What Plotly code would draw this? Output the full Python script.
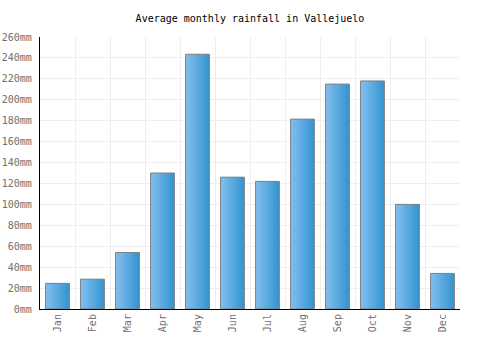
import plotly.graph_objects as go

months = ["Jan","Feb","Mar","Apr","May","Jun","Jul","Aug","Sep","Oct","Nov","Dec"]
rainfall = [24.5, 28.5, 54, 130, 243.5, 126, 122, 181.5, 215, 218, 100, 34]
y_ticks = list(range(0, 261, 20))
y_tick_text = [f"{v}mm" for v in y_ticks]

def lerp(c1, c2, t):
    return "rgb(%d,%d,%d)" % tuple(round(a + (b - a) * t) for a, b in zip(c1, c2))

left_c = (0x82, 0xbf, 0xef)
right_c = (0x36, 0x96, 0xd2)
W = 0.68
N = 12
fig = go.Figure()
for i in range(N):
    fig.add_trace(go.Bar(
        x=months, y=rainfall, width=W / N, offset=-W / 2 + i * W / N,
        marker=dict(color=lerp(left_c, right_c, i / (N - 1)), line=dict(width=0)),
        hoverinfo="skip", showlegend=False))
fig.add_trace(go.Bar(
    x=months, y=rainfall, width=W, offset=-W / 2,
    marker=dict(color="rgba(0,0,0,0)", line=dict(color="#808080", width=1)),
    showlegend=False))

fig.update_layout(
    width=500, height=350,
    margin=dict(l=40, r=40, t=37, b=41),
    barmode="overlay",
    paper_bgcolor="white", plot_bgcolor="white",
    font=dict(family="DejaVu Sans Mono", size=10, color="#707070"),
    title=dict(text="Average monthly rainfall in Vallejuelo", x=0.5, xanchor="center",
               y=1 - 18 / 350, yanchor="middle", font=dict(size=10, color="black")),
    xaxis=dict(type="category", tickson="boundaries", showgrid=True, gridcolor="#eeeeee",
               tickangle=-90, showline=True, linecolor="black", linewidth=1.2,
               ticks="", range=[-0.5, 11.5], automargin=False),
    yaxis=dict(range=[0, 260], tickmode="array", tickvals=y_ticks, ticktext=y_tick_text,
               showgrid=True, gridcolor="#eeeeee", showline=True, linecolor="black",
               linewidth=1.2, zeroline=False, ticks="", automargin=False,
               ticklabelstandoff=5),
)
fig.write_html("out.html")
